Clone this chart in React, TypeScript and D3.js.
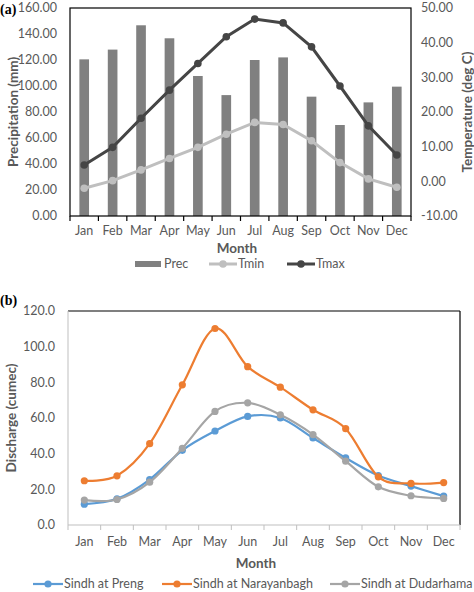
import React from "react";
import * as d3 from "d3";

const months = ["Jan","Feb","Mar","Apr","May","Jun","Jul","Aug","Sep","Oct","Nov","Dec"];
const prec = [120.5, 128, 146.7, 136.7, 107.7, 93, 120, 122, 91.8, 70, 87.4, 99.5];
const tmin = [-2, 0.2, 3.3, 6.6, 9.8, 13.6, 17, 16.4, 11.7, 5.4, 0.7, -1.7];
const tmax = [4.7, 9.8, 18.2, 26.3, 34, 41.7, 46.8, 45.7, 38.8, 27.5, 16, 7.6];
const precTicks = [0, 20, 40, 60, 80, 100, 120, 140, 160];
const tempTicks = [-10, 0, 10, 20, 30, 40, 50];

const preng = [11.7, 14.7, 25.5, 41.9, 52.7, 60.9, 60, 48.8, 37.6, 27.7, 21.8, 16.2];
const narayanbagh = [24.8, 27.6, 45.6, 78.6, 110.2, 88.8, 77.3, 64.6, 54, 27, 23.3, 23.8];
const dudarhama = [14, 14.3, 24, 43, 63.7, 68.5, 61.8, 50.7, 35.8, 21.4, 16.4, 14.9];
const dischargeTicks = [0, 20, 40, 60, 80, 100, 120];

const FONT = "Lato, 'Liberation Sans', sans-serif";
const TXT = "#595959";

function ChartA() {
  const L = 70, R = 411, T = 8, B = 216;
  const x = d3.scaleBand<string>().domain(months).range([L, R]).padding(0);
  const yL = d3.scaleLinear().domain([0, 160]).range([B, T]);
  const yR = d3.scaleLinear().domain([-10, 50]).range([B, T]);
  const cx = (m: string) => (x(m) as number) + x.bandwidth() / 2;
  const line = d3.line<number>().x((_, i) => cx(months[i])).y((d) => yR(d));
  const bw = x.bandwidth() * 0.34;
  const bounds = months.map((m) => x(m) as number).concat([R]);
  return (
    <g fontFamily={FONT}>
      <text x={0} y={14} fontFamily="'Liberation Serif', serif" fontWeight="bold" fontSize={14} fill="#000">(a)</text>
      {prec.map((v, i) => (
        <rect key={i} x={cx(months[i]) - bw / 2} y={yL(v)} width={bw} height={B - yL(v)} fill="#808080" />
      ))}
      <path d={line(tmin) || ""} fill="none" stroke="#bfbfbf" strokeWidth={3} />
      {tmin.map((v, i) => <circle key={i} cx={cx(months[i])} cy={yR(v)} r={3.8} fill="#bfbfbf" />)}
      <path d={line(tmax) || ""} fill="none" stroke="#454545" strokeWidth={3} />
      {tmax.map((v, i) => <circle key={i} cx={cx(months[i])} cy={yR(v)} r={3.8} fill="#454545" />)}
      <rect x={L} y={T} width={R - L} height={B - T} fill="none" stroke="#000" strokeWidth={1.2} />
      {bounds.map((b, i) => <line key={i} x1={b} x2={b} y1={B} y2={B + 5} stroke="#000" strokeWidth={1.2} />)}
      {precTicks.map((t) => (
        <text key={t} x={57} y={yL(t)} dy="0.35em" textAnchor="end" fontSize={12.5} fill={TXT}>{t.toFixed(2)}</text>
      ))}
      {tempTicks.map((t) => (
        <text key={t} x={421} y={yR(t)} dy="0.35em" textAnchor="start" fontSize={12.5} fill={TXT}>{t.toFixed(2)}</text>
      ))}
      {months.map((m) => (
        <text key={m} x={cx(m)} y={231} dy="0.35em" textAnchor="middle" fontSize={12.5} fill={TXT}>{m}</text>
      ))}
      <text x={237} y={248} dy="0.35em" textAnchor="middle" fontSize={13.5} fontWeight="bold" fill={TXT}>Month</text>
      <text transform={`translate(13,${(T + B) / 2}) rotate(-90)`} textAnchor="middle" dy="0.35em" fontSize={13.5} fontWeight="bold" fill={TXT}>Precipitation (mm)</text>
      <text transform={`translate(467,${(T + B) / 2}) rotate(-90)`} textAnchor="middle" dy="0.35em" fontSize={13.5} fontWeight="bold" fill={TXT}>Temperature (deg C)</text>
      <g>
        <rect x={135} y={261} width={26} height={6} fill="#808080" />
        <text x={164} y={264} dy="0.35em" fontSize={12.5} fill={TXT}>Prec</text>
        <line x1={209} x2={237} y1={264} y2={264} stroke="#bfbfbf" strokeWidth={3} />
        <circle cx={223} cy={264} r={3.8} fill="#bfbfbf" />
        <text x={238} y={264} dy="0.35em" fontSize={12.5} fill={TXT}>Tmin</text>
        <line x1={287} x2={315} y1={264} y2={264} stroke="#454545" strokeWidth={3} />
        <circle cx={301} cy={264} r={3.8} fill="#454545" />
        <text x={316} y={264} dy="0.35em" fontSize={12.5} fill={TXT}>Tmax</text>
      </g>
    </g>
  );
}

function ChartB() {
  const L = 68, R = 460, T = 311, B = 525;
  const x = d3.scaleBand<string>().domain(months).range([L, R]).padding(0);
  const y = d3.scaleLinear().domain([0, 120]).range([B, T]);
  const cx = (m: string) => (x(m) as number) + x.bandwidth() / 2;
  const line = d3.line<number>().x((_, i) => cx(months[i])).y((d) => y(d)).curve(d3.curveCardinal.tension(0));
  const bounds = months.map((m) => x(m) as number).concat([R]);
  const series = [
    { name: "Sindh at Preng", data: preng, color: "#5b9bd5" },
    { name: "Sindh at Narayanbagh", data: narayanbagh, color: "#ed7d31" },
    { name: "Sindh at Dudarhama", data: dudarhama, color: "#a5a5a5" },
  ];
  const legendX = [33, 162, 330];
  return (
    <g fontFamily={FONT}>
      <text x={0} y={305} fontFamily="'Liberation Serif', serif" fontWeight="bold" fontSize={14} fill="#000">(b)</text>
      <line x1={L} x2={R} y1={T} y2={T} stroke="#000" strokeWidth={1.2} />
      <line x1={R} x2={R} y1={T} y2={B} stroke="#000" strokeWidth={1.2} />
      <line x1={L} x2={L} y1={T} y2={B} stroke="#bfbfbf" strokeWidth={1} />
      <line x1={L} x2={R} y1={B} y2={B} stroke="#bfbfbf" strokeWidth={1} />
      {bounds.map((b, i) => <line key={i} x1={b} x2={b} y1={B} y2={B + 5} stroke="#bfbfbf" strokeWidth={1} />)}
      {series.map((s) => (
        <g key={s.name}>
          <path d={line(s.data) || ""} fill="none" stroke={s.color} strokeWidth={2.2} />
          {s.data.map((v, i) => <circle key={i} cx={cx(months[i])} cy={y(v)} r={3.6} fill={s.color} />)}
        </g>
      ))}
      {dischargeTicks.map((t) => (
        <text key={t} x={55} y={y(t)} dy="0.35em" textAnchor="end" fontSize={12.5} fill={TXT}>{t.toFixed(1)}</text>
      ))}
      {months.map((m) => (
        <text key={m} x={cx(m)} y={542} dy="0.35em" textAnchor="middle" fontSize={12.5} fill={TXT}>{m}</text>
      ))}
      <text x={256} y={563} dy="0.35em" textAnchor="middle" fontSize={13.5} fontWeight="bold" fill={TXT}>Month</text>
      <text transform={`translate(11,${(T + B) / 2}) rotate(-90)`} textAnchor="middle" dy="0.35em" fontSize={13.5} fontWeight="bold" fill={TXT}>Discharge (cumec)</text>
      {series.map((s, i) => (
        <g key={s.name}>
          <line x1={legendX[i]} x2={legendX[i] + 30} y1={584} y2={584} stroke={s.color} strokeWidth={2.2} />
          <circle cx={legendX[i] + 15} cy={584} r={3.6} fill={s.color} />
          <text x={legendX[i] + 31} y={584} dy="0.35em" fontSize={12.5} fill={TXT}>{s.name}</text>
        </g>
      ))}
    </g>
  );
}

export default function App() {
  return (
    <svg width={474} height={592} style={{ position: "absolute", left: 0, top: 0, background: "#fff" }}>
      <rect width={474} height={592} fill="#fff" />
      <ChartA />
      <ChartB />
    </svg>
  );
}
